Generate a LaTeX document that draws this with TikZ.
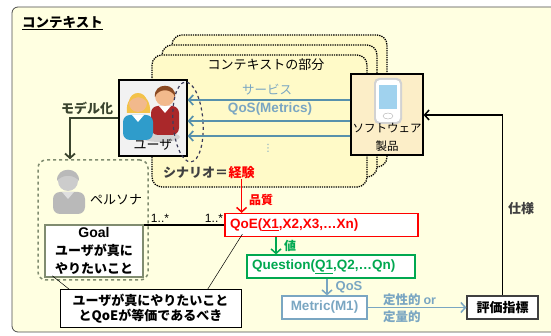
\documentclass[tikz,border=0pt]{standalone}
\usepackage{fontspec}
\setmainfont{Noto Sans CJK JP}
\newfontfamily\latinfont{Liberation Sans}
\newfontfamily\symbolfont{DejaVu Sans}
\usetikzlibrary{arrows.meta,positioning}
\definecolor{ctxbg}{RGB}{255,255,225}
\definecolor{partbg}{RGB}{255,250,200}
\definecolor{swbg}{RGB}{252,238,200}
\definecolor{qosblue}{RGB}{88,145,172}
\definecolor{qoslight}{RGB}{122,166,194}
\definecolor{qgreen}{RGB}{0,168,80}
\definecolor{modelcol}{RGB}{58,68,46}
\definecolor{personacol}{RGB}{128,140,112}
\definecolor{darktext}{RGB}{64,64,64}
\definecolor{ellipsecol}{RGB}{60,60,90}
\definecolor{skin}{RGB}{242,185,140}
\definecolor{manred}{RGB}{170,40,42}
\definecolor{womanblue}{RGB}{47,156,203}
\definecolor{hairyellow}{RGB}{243,194,74}
\definecolor{hairbrown}{RGB}{139,74,35}
\definecolor{screenblue}{RGB}{160,210,238}

\begin{document}
\begin{tikzpicture}[x=1pt,y=-1pt]
    \tikzstyle{every node}+=[inner sep=0pt, font=\fontsize{12}{14}\selectfont]
    \tikzstyle{boldlabel}=[font=\bfseries\fontsize{12}{14}\selectfont]
    \tikzstyle{latinlabel}=[font=\latinfont\bfseries\fontsize{13.5}{15}\selectfont]
    \tikzstyle{barb}=[-{Straight Barb[length=4.5pt,width=10pt]}]
    \tikzstyle{metricbox}=[draw, line width=1.2pt, fill=white, minimum height=23, latinlabel]
    \useasboundingbox (0,0) rectangle (551,336);
    % context frame
    \draw [gray!60!black, fill=ctxbg, rounded corners=6, line width=0.8pt] (12,7) rectangle (580,332);
    \node [anchor=west, font=\bfseries\fontsize{13.5}{15}\selectfont] (ctxtitle) at (22,23) {\underline{コンテキスト}};
    % stacked context parts
    \foreach \d in {20,10,0}
        \draw [black, densely dotted, line width=1.3pt, rounded corners=10, fill=partbg] (152+\d,55-\d) rectangle (367+\d,187-\d);
    \node [font=\fontsize{13}{15}\selectfont] (partlabel) at (266,65) {コンテキストの部分};

    % user
    \node [draw, line width=1.2pt, fill=gray!10, minimum width=68, minimum height=76] (user) at (153,118) {};
    \fill [gray!35] (160,137) ellipse (20 and 5);
    \fill [manred, rounded corners=7] (151,106) rectangle (179,135);
    \fill [white] (159,106) -- (171,106) -- (165,113) -- cycle;
    \fill [skin] (165,96) circle (10);
    \fill [hairbrown] (155,97) .. controls (153,82) and (177,82) .. (175,97) .. controls (172,88) and (158,88) .. (155,97);
    \fill [hairyellow] (127,113) .. controls (124,90) and (152,88) .. (150,113) -- cycle;
    \fill [womanblue, rounded corners=7] (123,115) rectangle (153,140);
    \fill [white] (132,115) -- (144,115) -- (138,122) -- cycle;
    \fill [skin] (138,103) circle (9);
    \fill [hairyellow] (129,102) .. controls (130,90) and (146,90) .. (147,102) .. controls (141,95) and (135,96) .. (129,102);
    \node [font=\fontsize{13}{15}\selectfont] (userlabel) at (153,145) {ユーザ};
    \draw [dashed, ellipsecol, line width=1.2pt, rotate around={4:(188,122)}] (188,122) ellipse (15 and 40);

    % software product
    \node [draw, line width=1.2pt, fill=swbg, minimum width=72, minimum height=81] (soft) at (387,114.5) {};
    \fill [gray!35, rounded corners=5] (374,78) rectangle (402,124);
    \fill [white, rounded corners=4] (376,80) rectangle (400,122);
    \fill [screenblue] (379,85) rectangle (397,109);
    \draw [gray!60] (388,116) ellipse (5 and 3);
    \node [align=center, font=\fontsize{11.5}{18}\selectfont] (softlabel) at (387,137) {ソフトウェア\\製品};

    \draw [barb, qosblue, line width=1.7pt] ([yshift=14.5pt]soft.west) -- ([yshift=18pt]user.east);
    \draw [barb, qosblue, line width=1.7pt] ([yshift=-6.5pt]soft.west) -- ([yshift=-3pt]user.east);
    \draw [barb, qosblue, line width=1.7pt] ([yshift=-21.5pt]soft.west) -- ([yshift=-18pt]user.east);
    \node [qoslight, font=\fontsize{12.5}{14}\selectfont] (service) at (267,90) {サービス};
    \node [qoslight, latinlabel] (qosmetrics) at (270,109) {QoS(Metrics)};
    \node [qoslight, font=\symbolfont\fontsize{10}{10}\selectfont] (more) at (268,148) {⋮};

    % scenario
    \node [anchor=west, darktext, font=\bfseries\fontsize{13}{15}\selectfont] (scenario) at (163,173) {シナリオ＝};
    \node [anchor=west, red, font=\bfseries\fontsize{13}{15}\selectfont] (experience) at (scenario.east) {経験};

    % metric chain
    \node [metricbox, draw=red, text=red, text width=183, inner xsep=5, align=left] (qoe) at (321.5,225) {QoE(\underline{X1},X2,X3,…Xn)};
    \node [metricbox, draw=qgreen, text=qgreen, text width=158, inner xsep=5, align=left] (question) at (331,266.5) {Question(\underline{Q1},Q2,…Qn)};
    \node [metricbox, draw=qoslight, text=qoslight, minimum width=85] (metric) at (324.5,307.5) {Metric(M1)};
    \node [metricbox, draw=darktext, minimum width=71, font=\bfseries\fontsize{13}{15}\selectfont] (eval) at (502.5,307.5) {評価指標};

    \draw [barb, red, line width=1.5pt] (experience.south) -- (experience.south |- qoe.north);
    \node [red, boldlabel] (quality) at (261,200) {品質};
    \coordinate (qtop) at ([xshift=-45.5pt]qoe.south);
    \draw [barb, qgreen, line width=1.5pt] (qtop) -- (qtop |- question.north);
    \node [qgreen, boldlabel] (value) at (290,246) {値};
    \coordinate (mtop) at ([xshift=-4pt]question.south);
    \draw [barb, qoslight, line width=1.5pt] (mtop) -- (mtop |- metric.north);
    \node [qoslight, latinlabel, font=\latinfont\bfseries\fontsize{13}{15}\selectfont] (qos) at (349,287) {QoS};
    \draw [barb, qoslight, line width=1.5pt] (metric) -- (eval);
    \node [qoslight, align=left, anchor=west, font=\bfseries\fontsize{12.5}{17}\selectfont] (kind) at (383,308) {定性的 {\latinfont or}\\定量的};

    \draw [barb, black, line width=1.5pt] (eval.north) |- ([yshift=-0.5pt]soft.east);
    \node [darktext, font=\bfseries\fontsize{13}{15}\selectfont] (spec) at (521,209) {仕様};

    % persona
    \node [draw=personacol, dashed, line width=1.5pt, rounded corners=8, minimum width=110, minimum height=120] (persona) at (93,220) {};
    \coordinate (ptop) at ([xshift=-23pt]persona.north);
    \draw [barb, modelcol, line width=1.8pt] (user.west) -| (ptop);
    \node [modelcol, font=\bfseries\fontsize{13}{15}\selectfont] (model) at (87,108) {モデル化};
    \fill [gray!55, rounded corners=7] (53,192) rectangle (85,214);
    \fill [gray!25] (62,192) -- (74,192) -- (68,199) -- cycle;
    \fill [gray!40] (68,181) circle (10);
    \fill [gray!55] (57,181) .. controls (56,166) and (80,166) .. (79,181) .. controls (74,174) and (62,174) .. (57,181);
    \node [font=\fontsize{13}{15}\selectfont] (personalabel) at (116,200) {ペルソナ};
    \node [draw=personacol, line width=1.5pt, fill=white, minimum width=98, minimum height=52, align=center, font=\bfseries\fontsize{13}{18}\selectfont] (goal) at (94,251) {{\latinfont\fontsize{14}{18}\selectfont Goal}\\ユーザが真に\\やりたいこと};

    \draw [black, line width=2pt] (goal.east |- qoe.west) -- (qoe.west);
    \node [font=\latinfont\fontsize{12}{13}\selectfont] (multgoal) at (160,218) {1..*};
    \node [font=\latinfont\fontsize{12}{13}\selectfont] (multqoe) at (214,218) {1..*};

    % note
    \node [draw, line width=1pt, fill=white, minimum width=181, minimum height=37, align=center, font=\bfseries\fontsize{13}{15}\selectfont] (note) at (150.5,308.5) {ユーザが真にやりたいこと\\とQoEが等価であるべき};
    \draw [black, line width=0.5pt] ([xshift=10pt]note.north west) -- ([xshift=8pt,yshift=2pt]goal.south west);
    \draw [black, line width=0.5pt] ([xshift=-34pt]note.north east) -- ([xshift=18pt,yshift=3pt]qoe.south west);
\end{tikzpicture}
\end{document}
